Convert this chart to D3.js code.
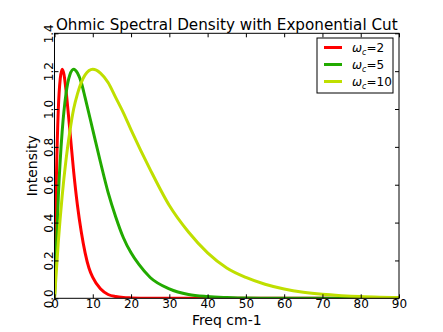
<!DOCTYPE html>
<html>
<head>
<meta charset="utf-8">
<script src="https://cdn.jsdelivr.net/npm/d3@7"></script>
<style>
  body { margin: 0; background: #fff; }
  text { font-family: "DejaVu Sans", sans-serif; fill: #000; }
</style>
</head>
<body>
<div id="chart"></div>
<script>
// values
let freqRed = [0, 0.5, 1, 1.5, 2, 2.5, 3, 4, 5, 6, 7, 8, 9, 10, 12, 14, 16, 18, 20, 25, 30, 40, 50, 60, 70, 80, 90];
let valRed = [0, 0.64, 1.0, 1.16, 1.21, 1.18, 1.1, 0.89, 0.67, 0.49, 0.35, 0.24, 0.16, 0.11, 0.05, 0.02, 0.009, 0.004, 0.002, 0, 0, 0, 0, 0, 0, 0, 0];

let freqGreen = [0, 1, 2, 3, 4, 5, 6, 7, 8, 10, 12, 14, 16, 18, 20, 22, 25, 30, 35, 40, 45, 50, 60, 70, 80, 90];
let valGreen = [0, 0.54, 0.88, 1.08, 1.18, 1.21, 1.19, 1.14, 1.06, 0.89, 0.72, 0.56, 0.43, 0.32, 0.24, 0.18, 0.11, 0.05, 0.02, 0.009, 0.004, 0.001, 0, 0, 0, 0];

let freqYellow = [0, 1, 2, 3, 4, 5, 6, 8, 10, 12, 14, 16, 18, 20, 25, 30, 35, 40, 45, 50, 55, 60, 65, 70, 75, 80, 85, 90];
let valYellow = [0, 0.3, 0.54, 0.73, 0.88, 1.0, 1.08, 1.18, 1.21, 1.19, 1.14, 1.06, 0.98, 0.89, 0.68, 0.49, 0.35, 0.24, 0.16, 0.11, 0.074, 0.049, 0.032, 0.021, 0.014, 0.009, 0.006, 0.004];

let seriesNames = ["2", "5", "10"];
let seriesColors = ["#ff0000", "#22aa00", "#bfdf00"];

let xTicks = [0, 10, 20, 30, 40, 50, 60, 70, 80, 90];
let yTicks = [0, 0.2, 0.4, 0.6, 0.8, 1.0, 1.2, 1.4];

let series = [
    {name: seriesNames[0], color: seriesColors[0], pts: freqRed.map((f, i) => [f, valRed[i]])},
    {name: seriesNames[1], color: seriesColors[1], pts: freqGreen.map((f, i) => [f, valGreen[i]])},
    {name: seriesNames[2], color: seriesColors[2], pts: freqYellow.map((f, i) => [f, valYellow[i]])}
];

let totalWidth = 443;
let totalHeight = 332;
let marginLeft = 54.5;
let marginTop = 33.3;
let width = 399 - marginLeft;
let height = 298.3 - marginTop;

let svg = d3.select("#chart").append("svg")
    .attr("width", totalWidth)
    .attr("height", totalHeight);

let g = svg.append("g")
    .attr("transform", "translate(" + marginLeft + "," + marginTop + ")");

let x = d3.scaleLinear().domain([0, 90]).range([0, width]);
let y = d3.scaleLinear().domain([0, 1.4]).range([height, 0]);

// curves
let line = d3.line()
    .x(d => x(d[0]))
    .y(d => y(d[1]))
    .curve(d3.curveMonotoneX);

g.append("clipPath").attr("id", "clip")
    .append("rect").attr("width", width).attr("height", height);

series.forEach(s => {
    g.append("path")
        .datum(s.pts)
        .attr("clip-path", "url(#clip)")
        .attr("fill", "none")
        .attr("stroke", s.color)
        .attr("stroke-width", 3)
        .attr("stroke-linejoin", "round")
        .attr("d", line);
});

// axes, ticks pointing inwards on all four sides
let tickLen = 4;
g.append("g")
    .attr("transform", "translate(0," + height + ")")
    .call(d3.axisBottom(x).tickValues(xTicks).tickSizeInner(-tickLen).tickSizeOuter(0).tickPadding(1.5))
    .call(a => a.select(".domain").remove())
    .selectAll("text").style("font-size", "12px");

g.append("g")
    .call(d3.axisTop(x).tickValues(xTicks).tickSizeInner(-tickLen).tickSizeOuter(0).tickFormat(""))
    .call(a => a.select(".domain").remove());

let yAxis = g.append("g")
    .call(d3.axisLeft(y).tickValues(yTicks).tickSizeInner(-tickLen).tickSizeOuter(0).tickFormat(d3.format(".1f")))
    .call(a => a.select(".domain").remove());
yAxis.selectAll("text")
    .style("font-size", "12px")
    .attr("text-anchor", "middle")
    .attr("dy", 0)
    .attr("x", 0)
    .attr("transform", "translate(-1.5,0) rotate(-90)");

g.append("g")
    .attr("transform", "translate(" + width + ",0)")
    .call(d3.axisRight(y).tickValues(yTicks).tickSizeInner(-tickLen).tickSizeOuter(0).tickFormat(""))
    .call(a => a.select(".domain").remove());

g.selectAll(".tick line").attr("stroke", "#000");

g.append("rect")
    .attr("width", width)
    .attr("height", height)
    .attr("fill", "none")
    .attr("stroke", "#000")
    .attr("stroke-width", 1);

// title and axis labels
svg.append("text")
    .attr("x", marginLeft + width / 2)
    .attr("y", 29.5)
    .attr("text-anchor", "middle")
    .style("font-size", "15.2px")
    .text("Ohmic Spectral Density with Exponential Cut");

svg.append("text")
    .attr("x", marginLeft + width / 2)
    .attr("y", 325)
    .attr("text-anchor", "middle")
    .style("font-size", "14px")
    .text("Freq cm-1");

svg.append("text")
    .attr("transform", "translate(37," + (marginTop + height / 2) + ") rotate(-90)")
    .attr("text-anchor", "middle")
    .style("font-size", "14px")
    .text("Intensity");

// legend
let legend = svg.append("g").attr("transform", "translate(317,38)");
legend.append("rect")
    .attr("width", 76)
    .attr("height", 55)
    .attr("fill", "#fff")
    .attr("stroke", "#000")
    .attr("stroke-width", 1);

series.forEach((s, i) => {
    let row = legend.append("g").attr("transform", "translate(0," + (9.5 + i * 17) + ")");
    row.append("line")
        .attr("x1", 7).attr("x2", 25)
        .attr("stroke", s.color)
        .attr("stroke-width", 3);
    let t = row.append("text")
        .attr("x", 35)
        .attr("y", 4.5)
        .style("font-size", "12px");
    t.append("tspan").style("font-style", "italic").text("ω");
    t.append("tspan").attr("dy", 3).style("font-size", "8px").style("font-style", "italic").text("c");
    t.append("tspan").attr("dy", -3).text("=" + s.name);
});
</script>
</body>
</html>
